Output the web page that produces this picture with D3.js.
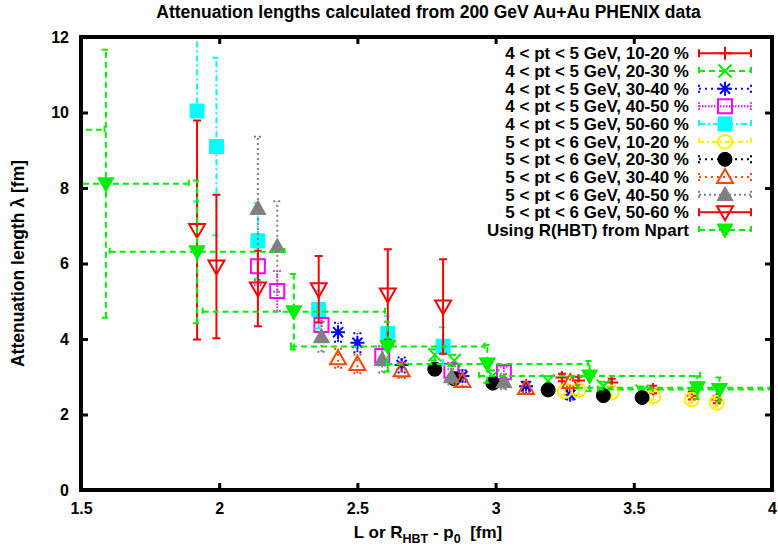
<!DOCTYPE html>
<html>
<head>
<meta charset="utf-8">
<script src="https://cdn.jsdelivr.net/npm/d3@7"></script>
<style>
  body { margin: 0; background: #fff; }
  text { font-family: "Liberation Sans", Arial, sans-serif; font-weight: bold; fill: #000; }
</style>
</head>
<body>
<div id="chart"></div>
<script>

// ---- data ----
const xTickValues = [1.5, 2, 2.5, 3, 3.5, 4]
const xTickLabels = ["1.5", "2", "2.5", "3", "3.5", "4"]
const yTickValues = [0, 2, 4, 6, 8, 10, 12]
const yTickLabels = ["0", "2", "4", "6", "8", "10", "12"]

const legendLabels = [
  "4 < pt < 5 GeV, 10-20 %",
  "4 < pt < 5 GeV, 20-30 %",
  "4 < pt < 5 GeV, 30-40 %",
  "4 < pt < 5 GeV, 40-50 %",
  "4 < pt < 5 GeV, 50-60 %",
  "5 < pt < 6 GeV, 10-20 %",
  "5 < pt < 6 GeV, 20-30 %",
  "5 < pt < 6 GeV, 30-40 %",
  "5 < pt < 6 GeV, 40-50 %",
  "5 < pt < 6 GeV, 50-60 %",
  "Using R(HBT) from Npart",
]

// [x, lambda, lambda error]
const pt45_1020 = [[3.24, 2.98, 0.10], [3.30, 2.90, 0.10], [3.42, 2.85, 0.10], [3.57, 2.66, 0.10], [3.71, 2.50, 0.10], [3.80, 2.40, 0.10]]
const pt45_2030 = [[2.78, 3.58, 0.15], [2.85, 3.43, 0.15], [2.99, 3.02, 0.15], [3.19, 2.89, 0.12], [3.39, 2.75, 0.12], [3.53, 2.62, 0.12]]
const pt45_3040 = [[2.43, 4.18, 0.25], [2.50, 3.90, 0.25], [2.66, 3.31, 0.20], [2.88, 3.02, 0.15], [3.11, 2.75, 0.12], [3.27, 2.52, 0.12]]
const pt45_4050 = [[2.14, 5.93, 0.50], [2.21, 5.27, 0.53], [2.37, 4.37, 0.30], [2.59, 3.55, 0.25], [2.84, 3.16, 0.20], [3.03, 3.12, 0.15]]
const pt45_5060 = [[1.92, 10.04, 2.40], [1.99, 9.10, 2.35], [2.14, 6.60, 1.00], [2.36, 4.78, 0.50], [2.61, 4.15, 0.45], [2.81, 3.81, 0.50]]
const pt56_1020 = [[3.25, 2.62, 0.10], [3.30, 2.64, 0.10], [3.42, 2.58, 0.10], [3.57, 2.48, 0.10], [3.71, 2.40, 0.10], [3.80, 2.31, 0.10]]
const pt56_2030 = [[2.78, 3.20, 0.15], [2.85, 2.95, 0.15], [2.99, 2.83, 0.12], [3.19, 2.65, 0.12], [3.39, 2.50, 0.10], [3.53, 2.45, 0.10]]
const pt56_3040 = [[2.43, 3.49, 0.25], [2.50, 3.34, 0.25], [2.66, 3.17, 0.20], [2.88, 2.89, 0.15], [3.11, 2.70, 0.12], [3.27, 2.86, 0.12]]
const pt56_4050 = [[2.14, 7.46, 1.90], [2.21, 6.45, 1.20], [2.37, 4.06, 0.40], [2.59, 3.46, 0.35], [2.84, 3.00, 0.20], [3.03, 2.87, 0.20]]
const pt56_5060 = [[1.92, 6.89, 2.90], [1.99, 5.92, 1.90], [2.14, 5.34, 1.00], [2.36, 5.32, 0.88], [2.61, 5.18, 1.20], [2.81, 4.86, 1.25]]
// [x, lambda, x error, lambda error]
const npartHBT = [[1.28, 9.54, 0.305, 2.0], [1.59, 8.11, 0.30, 3.55], [1.92, 6.31, 0.316, 1.89], [2.27, 4.72, 0.33, 1.0],
  [2.61, 3.80, 0.35, 0.66], [2.97, 3.34, 0.365, 0.50], [3.34, 3.02, 0.40, 0.40], [3.73, 2.71, 0.435, 0.30], [3.81, 2.66, 0.44, 0.32]]

const seriesStyles = [
  {data: pt45_1020, color: "#ff0000", dash: null,       marker: "plus",   fill: false},
  {data: pt45_2030, color: "#00ee00", dash: "6,4",      marker: "times",  fill: false},
  {data: pt45_3040, color: "#0000ff", dash: "2,4",      marker: "star",   fill: false},
  {data: pt45_4050, color: "#ff00ff", dash: "1.5,1.5",  marker: "square", fill: false},
  {data: pt45_5060, color: "#00ffff", dash: "6,3,2,3",  marker: "square", fill: true},
  {data: pt56_1020, color: "#ffee00", dash: "5,3,2,3",  marker: "circle", fill: false},
  {data: pt56_2030, color: "#000000", dash: "2,4",      marker: "circle", fill: true},
  {data: pt56_3040, color: "#ff4500", dash: "2,4",      marker: "triUp",  fill: false},
  {data: pt56_4050, color: "#808080", dash: "2,3",      marker: "triUp",  fill: true},
  {data: pt56_5060, color: "#ff0000", dash: null,       marker: "triDown", fill: false},
  {data: npartHBT,  color: "#00ee00", dash: "6,4",      marker: "triDown", fill: true, xy: true},
]

// ---- layout ----
const width = 778, height = 551
const plot = {left: 81, right: 772, top: 37, bottom: 490}

const xScale = d3.scaleLinear().domain([1.5, 4]).range([plot.left, plot.right])
const yScale = d3.scaleLinear().domain([0, 12]).range([plot.bottom, plot.top])

const svg = d3.select("#chart").append("svg")
    .attr("width", width)
    .attr("height", height)

svg.append("defs").append("clipPath").attr("id", "clip")
  .append("rect")
    .attr("x", plot.left).attr("y", plot.top)
    .attr("width", plot.right - plot.left).attr("height", plot.bottom - plot.top)

// title and axis labels
svg.append("text")
    .attr("x", (plot.left + plot.right) / 2 + 2)
    .attr("y", 18)
    .attr("text-anchor", "middle")
    .style("font-size", "17.5px")
    .text("Attenuation lengths calculated from 200 GeV Au+Au PHENIX data")

svg.append("text")
    .attr("transform", `translate(24, ${(plot.top + plot.bottom) / 2}) rotate(-90)`)
    .attr("text-anchor", "middle")
    .style("font-size", "17.5px")
    .text("Attenuation length λ [fm]")

const xLabel = svg.append("text")
    .attr("x", 428)
    .attr("y", 538)
    .attr("text-anchor", "middle")
    .style("font-size", "17px")
xLabel.append("tspan").text("L or R")
xLabel.append("tspan").attr("dy", 5).style("font-size", "12.5px").text("HBT")
xLabel.append("tspan").attr("dy", -5).text(" - p")
xLabel.append("tspan").attr("dy", 5).style("font-size", "12.5px").text("0")
xLabel.append("tspan").attr("dy", -5).text("\u00a0 [fm]")

// axes (ticks inward, mirrored)
svg.append("g")
    .attr("transform", `translate(0, ${plot.bottom})`)
    .call(d3.axisBottom(xScale).tickValues(xTickValues)
      .tickFormat((d, i) => xTickLabels[i]).tickSize(-7).tickPadding(13))
svg.append("g")
    .attr("transform", `translate(${plot.left}, 0)`)
    .call(d3.axisLeft(yScale).tickValues(yTickValues)
      .tickFormat((d, i) => yTickLabels[i]).tickSize(-7).tickPadding(12))
svg.append("g")
    .attr("transform", `translate(0, ${plot.top})`)
    .call(d3.axisTop(xScale).tickValues(xTickValues).tickFormat("").tickSize(-7))
svg.append("g")
    .attr("transform", `translate(${plot.right}, 0)`)
    .call(d3.axisRight(yScale).tickValues(yTickValues).tickFormat("").tickSize(-7))

svg.selectAll(".domain").remove()
svg.selectAll(".tick line").attr("stroke", "#000").attr("stroke-width", 3)
svg.selectAll(".tick text").style("font-size", "16px").style("font-family", null)

// ---- markers ----
function markerPath(type, s) {
  switch (type) {
    case "plus": return `M${-s},0H${s}M0,${-s}V${s}`
    case "times": return `M${-s},${-s}L${s},${s}M${-s},${s}L${s},${-s}`
    case "star": {
      const t = s * 0.72
      return `M${-s},0H${s}M0,${-s}V${s}M${-t},${-t}L${t},${t}M${-t},${t}L${t},${-t}`
    }
    case "square": return `M${-s},${-s}H${s}V${s}H${-s}Z`
    case "circle": return d3.arc()({innerRadius: 0, outerRadius: s, startAngle: 0, endAngle: 2 * Math.PI})
    case "triUp": return `M0,${-s}L${s},${s * 0.75}L${-s},${s * 0.75}Z`
    case "triDown": return `M0,${s}L${s},${-s * 0.75}L${-s},${-s * 0.75}Z`
  }
}
const markerSize = {plus: 6.5, times: 6.5, star: 7, square: 7, circle: 7, triUp: 8, triDown: 8}

const capW = 4

const dataLayer = svg.append("g").attr("clip-path", "url(#clip)")

seriesStyles.forEach(st => {
  const g = dataLayer.append("g")
  const bars = g.append("g")
      .attr("fill", "none")
      .attr("stroke", st.color)
      .attr("stroke-width", 2)
      .attr("stroke-dasharray", st.dash)

  st.data.forEach(d => {
    const cx = xScale(d[0]), cy = yScale(d[1])
    const yErr = st.xy ? d[3] : d[2]
    const y0 = yScale(d[1] - yErr), y1 = yScale(d[1] + yErr)
    let p = `M${cx},${y0}V${y1}M${cx - capW},${y0}H${cx + capW}M${cx - capW},${y1}H${cx + capW}`
    if (st.xy) {
      const x0 = xScale(d[0] - d[2]), x1 = xScale(d[0] + d[2])
      p += `M${x0},${cy}H${x1}M${x0},${cy - capW}V${cy + capW}M${x1},${cy - capW}V${cy + capW}`
    }
    bars.append("path").attr("d", p)
  })

  g.selectAll(".pt")
    .data(st.data)
    .join("path")
      .attr("class", "pt")
      .attr("transform", d => `translate(${xScale(d[0])},${yScale(d[1])})`)
      .attr("d", markerPath(st.marker, markerSize[st.marker]))
      .attr("fill", st.fill ? st.color : "none")
      .attr("stroke", st.color)
      .attr("stroke-width", st.fill ? 1 : 2)
})

// ---- legend ----
const legend = svg.append("g")
const rowH = 17.67
legendLabels.forEach((label, i) => {
  const st = seriesStyles[i]
  const y = 53.3 + i * rowH
  legend.append("text")
      .attr("x", 689)
      .attr("y", y)
      .attr("dy", "0.36em")
      .attr("text-anchor", "end")
      .style("font-size", "17px")
      .text(label)
  legend.append("path")
      .attr("d", `M699,${y}H751M699,${y - capW}V${y + capW}M751,${y - capW}V${y + capW}`)
      .attr("fill", "none")
      .attr("stroke", st.color)
      .attr("stroke-width", 2)
      .attr("stroke-dasharray", st.dash)
  legend.append("path")
      .attr("transform", `translate(725,${y})`)
      .attr("d", markerPath(st.marker, markerSize[st.marker]))
      .attr("fill", st.fill ? st.color : "none")
      .attr("stroke", st.color)
      .attr("stroke-width", st.fill ? 1 : 2)
})

// frame
svg.append("rect")
    .attr("x", plot.left).attr("y", plot.top)
    .attr("width", plot.right - plot.left).attr("height", plot.bottom - plot.top)
    .attr("fill", "none")
    .attr("stroke", "#000")
    .attr("stroke-width", 4)

</script>
</body>
</html>
